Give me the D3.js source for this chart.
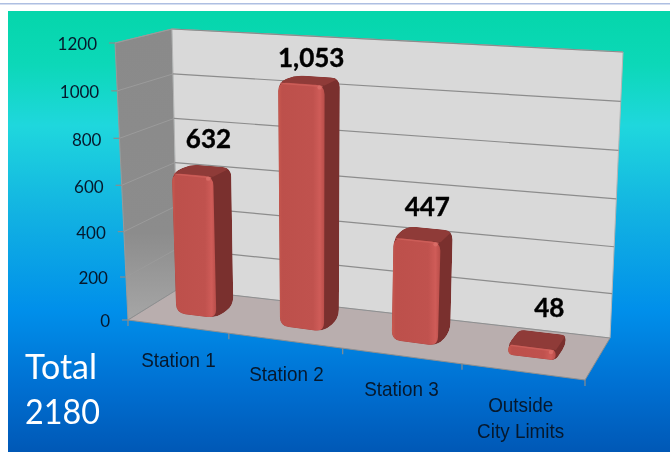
<!DOCTYPE html>
<html>
<head>
<meta charset="utf-8">
<script src="https://cdn.jsdelivr.net/npm/d3@7"></script>
<style>
  html, body { margin: 0; padding: 0; background: #fff; }
  svg { display: block; filter: blur(0.35px); }
  text { font-family: Lato, "Open Sans", sans-serif; }
  .cat { font-family: "Liberation Sans", Arial, sans-serif; }
</style>
</head>
<body>
<div id="chart"></div>
<script>
const categories = ['Station 1', 'Station 2', 'Station 3', 'Outside\nCity Limits'];
const values = [632, 1053, 447, 48];
const valueLabels = ['632', '1,053', '447', '48'];
const yTicks = [0, 200, 400, 600, 800, 1000, 1200];
const totalLines = ['Total', '2180'];

const width = 670, height = 452;

// corners of the 3d box on screen, and how "up" leans at each of them
const floor = { fl: [128, 320], fr: [585, 380], bl: [178, 289], br: [610, 338] };
const up = { fl: [-13, -277], fr: [20, -305], bl: [-6, -260], br: [13, -286] };

const x = d3.scaleBand().domain(categories).range([0.012, 0.995]).paddingInner(0.6).paddingOuter(0.3);
const warp = d3.scalePow().exponent(1.09).domain([0, 1]).range([0, 1]);
const depth = d3.scaleLinear().domain([0, 1]).range([0.35, 0.72]);
const y = d3.scalePow().exponent(1.04).domain([0, 1200]).range([0, 1]);

const mix = (c, u, v) => [0, 1].map(i =>
  (c.fl[i] * (1 - u) + c.fr[i] * u) * (1 - v) + (c.bl[i] * (1 - u) + c.br[i] * u) * v);

// u across, v into the wall, val in chart units
const P = (u, v, val) => {
  const w = warp(u), a = mix(floor, w, v), b = mix(up, w, v), h = y(val);
  return [a[0] + b[0] * h, a[1] + b[1] * h];
};

const roundedPoly = (pts, r) => {
  const p = d3.path(), n = pts.length;
  pts.forEach((c, i) => {
    const a = pts[(i + n - 1) % n], b = pts[(i + 1) % n];
    const toward = (q) => {
      const d = Math.hypot(q[0] - c[0], q[1] - c[1]), t = Math.min(r, d / 2) / d;
      return [c[0] + (q[0] - c[0]) * t, c[1] + (q[1] - c[1]) * t];
    };
    const s = toward(a), e = toward(b);
    if (i === 0) p.moveTo(s[0], s[1]); else p.lineTo(s[0], s[1]);
    p.quadraticCurveTo(c[0], c[1], e[0], e[1]);
  });
  p.closePath();
  return p.toString();
};
const poly = pts => 'M' + pts.map(d => d.join(',')).join('L') + 'Z';

const svg = d3.select('#chart').append('svg').attr('width', width).attr('height', height);
const defs = svg.append('defs');

const bgGrad = defs.append('linearGradient').attr('id', 'bg').attr('x1', 0).attr('x2', 0).attr('y1', 0).attr('y2', 1);
[[0, '#05d6ab'], [0.12, '#0cd8b8'], [0.26, '#1fd7dd'], [0.46, '#12b2e2'], [0.68, '#008fea'], [0.85, '#0070d2'], [1, '#0058b6']]
  .forEach(d => bgGrad.append('stop').attr('offset', d[0]).attr('stop-color', d[1]));

const wallGrad = defs.append('linearGradient').attr('id', 'wall').attr('x1', 0).attr('x2', 0).attr('y1', 0).attr('y2', 1);
[[0, '#8a8a8a'], [0.7, '#8c8c8c'], [1, '#a6a6a6']]
  .forEach(d => wallGrad.append('stop').attr('offset', d[0]).attr('stop-color', d[1]));

const barGrad = defs.append('linearGradient').attr('id', 'barFront').attr('x1', 0).attr('x2', 1).attr('y1', 0).attr('y2', 0);
[[0, '#c9594f'], [0.08, '#bd504b'], [0.75, '#c0524e'], [0.9, '#cf5c58'], [1, '#b84d49']]
  .forEach(d => barGrad.append('stop').attr('offset', d[0]).attr('stop-color', d[1]));

// slide frame
svg.append('rect').attr('x', 0).attr('y', 3).attr('width', width).attr('height', 1.5).attr('fill', '#aebfe2');
svg.append('rect').attr('x', 8).attr('y', 11).attr('width', width - 8).attr('height', height - 11).attr('fill', 'url(#bg)');

const yMax = y.domain()[1];

// walls and floor
svg.append('path').attr('fill', 'url(#wall)').attr('stroke', '#9a9a9a')
  .attr('d', poly([P(0, 0, 0), P(0, 1, 0), P(0, 1, yMax), P(0, 0, yMax)]));
svg.append('path').attr('fill', '#d9d9d9').attr('stroke', '#b5b5b5')
  .attr('d', poly([P(0, 1, 0), P(1, 1, 0), P(1, 1, yMax), P(0, 1, yMax)]));
svg.append('path').attr('fill', '#b9aeae').attr('stroke', '#8f8f8f').attr('stroke-width', 1)
  .attr('d', poly([P(0, 0, 0), P(1, 0, 0), P(1, 1, 0), P(0, 1, 0)]));

// gridlines
const grid = svg.append('g').attr('fill', 'none');
yTicks.filter(d => d > 0).forEach(t => {
  grid.append('path').attr('stroke', '#8c8c8c').attr('stroke-width', 1.2)
    .attr('d', poly([P(0, 1, t), P(1, 1, t)]));
  grid.append('path').attr('stroke', '#9b9b9b').attr('stroke-width', 1)
    .attr('d', 'M' + P(0, 0, t).join(',') + 'L' + P(0, 1, t).join(','));
});

// value axis
const axisY = svg.append('g');
yTicks.forEach(t => {
  const p = P(0, 0, t);
  axisY.append('line').attr('x1', p[0] - 6).attr('x2', p[0]).attr('y1', p[1]).attr('y2', p[1])
    .attr('stroke', '#8c8c8c').attr('stroke-width', 1.2);
  axisY.append('text').attr('x', p[0] - 18).attr('y', p[1] + 1.5).attr('dy', '.35em')
    .attr('text-anchor', 'end').attr('font-size', 17).attr('fill', '#06182c').text(t);
});

// category axis ticks, one at each end of a category's slot
d3.range(categories.length + 1).forEach(i => {
  const p = P(i / categories.length, 0, 0);
  svg.append('line').attr('x1', p[0]).attr('x2', p[0]).attr('y1', p[1]).attr('y2', p[1] + 6)
    .attr('stroke', '#8c8c8c').attr('stroke-width', 1.2);
});

// bars
categories.forEach((c, i) => {
  const u0 = x(c), u1 = u0 + x.bandwidth(), v0 = depth(0), v1 = depth(1), val = values[i];
  const g = svg.append('g');
  const fb0 = P(u0, v0, 0), fb1 = P(u1, v0, 0), ft0 = P(u0, v0, val), ft1 = P(u1, v0, val);
  const bb1 = P(u1, v1, 0), bt0 = P(u0, v1, val), bt1 = P(u1, v1, val);
  const r = Math.min(9, (fb1[1] - ft1[1]) * 0.5);
  const outline = roundedPoly([fb0, fb1, bb1, bt1, bt0, ft0], r);
  const clipId = 'bar' + i;
  defs.append('clipPath').attr('id', clipId).append('path').attr('d', outline);
  const inner = g.append('g').attr('clip-path', `url(#${clipId})`);
  inner.append('path').attr('d', outline).attr('fill', '#7a302e');
  inner.append('path').attr('d', poly([ft0, ft1, bt1, bt0])).attr('fill', '#8f3b38');
  g.append('path').attr('d', roundedPoly([fb0, fb1, ft1, ft0], r)).attr('fill', 'url(#barFront)');
  g.append('path').attr('fill', 'none').attr('stroke', '#d2625c').attr('stroke-width', 1.5)
    .attr('stroke-opacity', 0.7)
    .attr('d', `M${ft0[0] + 2},${ft0[1] + 1}L${ft1[0] - 2},${ft1[1] + 1}`);
  g.append('circle').attr('cx', ft1[0] - 5).attr('cy', ft1[1] + 2).attr('r', 2.2)
    .attr('fill', '#dc6f69').attr('fill-opacity', 0.8);
});

// value labels are hand placed over the bars in the original
const labelNudge = [[7, -22], [2, -13], [4, -18], [12, -23]];
categories.forEach((c, i) => {
  const u = x(c) + x.bandwidth() / 2, p = P(u, (depth(0) + depth(1)) / 2, values[i]);
  svg.append('text').attr('x', p[0] + labelNudge[i][0]).attr('y', p[1] + labelNudge[i][1])
    .attr('text-anchor', 'middle').attr('font-size', 26).attr('font-weight', 700)
    .attr('stroke', '#000').attr('stroke-width', 0.4)
    .attr('fill', '#000').text(valueLabels[i]);
});

// category labels, the original face is a narrow one
categories.forEach(c => {
  const p = P(x(c) + x.bandwidth() / 2, 0, 0);
  c.split('\n').forEach((line, k) => {
    svg.append('text').attr('class', 'cat')
      .attr('transform', `translate(${p[0] - 1},${p[1] + 40 + k * 26}) scale(0.9,1)`)
      .attr('text-anchor', 'middle').attr('font-size', 21).attr('fill', '#06182c').text(line);
  });
});

// total note
totalLines.forEach((t, i) => {
  svg.append('text').attr('x', 25).attr('y', 379 + i * 45)
    .attr('font-size', 35).attr('fill', '#fff')
    .attr('textLength', i ? 75 : 72).attr('lengthAdjust', 'spacingAndGlyphs').text(t);
});
</script>
</body>
</html>
